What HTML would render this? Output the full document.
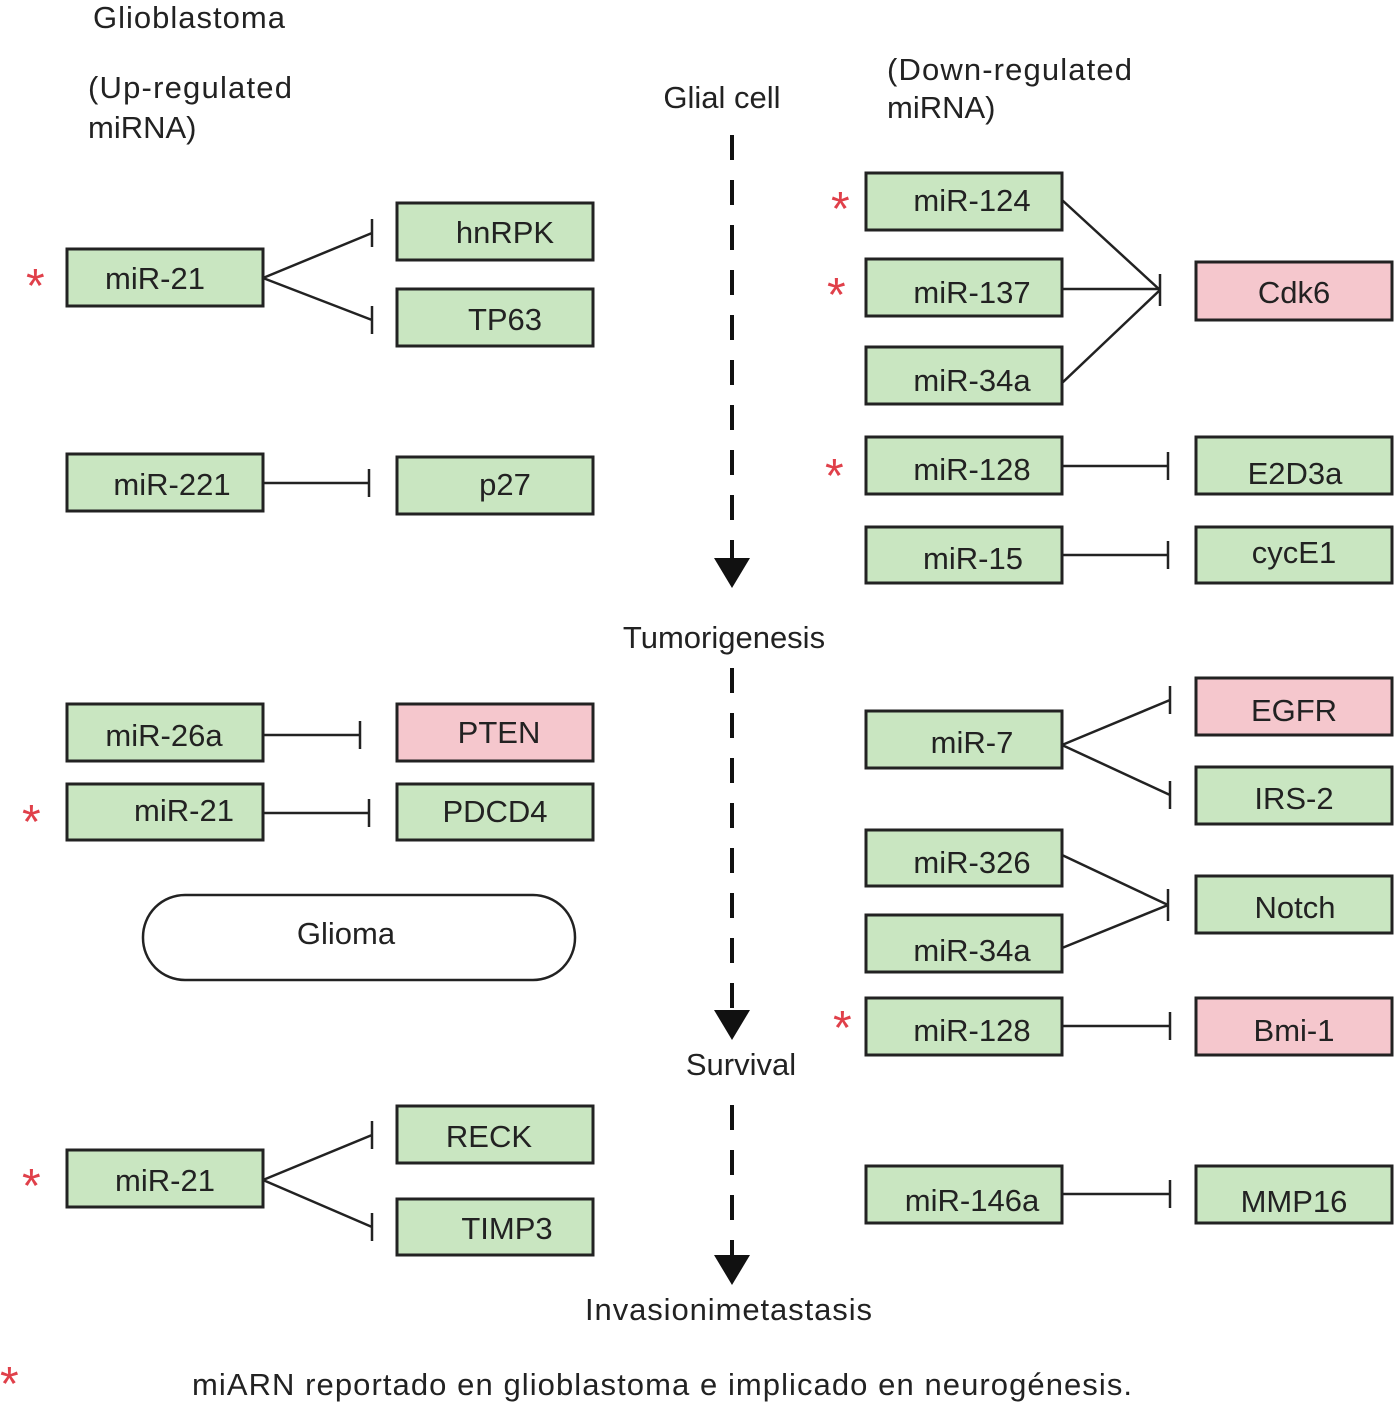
<!DOCTYPE html>
<html><head><meta charset="utf-8"><style>
html,body{margin:0;padding:0;background:#fff;width:1399px;height:1410px;overflow:hidden}
svg text{font-family:"Liberation Sans",sans-serif;font-size:31px;fill:#222}
.g{fill:#c9e6c1;stroke:#222;stroke-width:3}
.p{fill:#f5c7cd;stroke:#222;stroke-width:3}
.l{stroke:#222;stroke-width:2.5;fill:none}
.d{stroke:#111;stroke-width:4;stroke-dasharray:25 20;fill:none}
.s{fill:#e0404a;font-size:48px}
</style></head><body>
<svg width="1399" height="1410" xmlns="http://www.w3.org/2000/svg">
<text x="93" y="28" textLength="192">Glioblastoma</text>
<text x="88" y="98" textLength="204">(Up-regulated</text>
<text x="88" y="138">miRNA)</text>
<text x="722" y="108" text-anchor="middle">Glial cell</text>
<text x="887" y="80" textLength="245">(Down-regulated</text>
<text x="887" y="118">miRNA)</text>
<text x="724" y="648" text-anchor="middle">Tumorigenesis</text>
<text x="741" y="1075" text-anchor="middle">Survival</text>
<text x="585" y="1320" textLength="287">Invasionimetastasis</text>
<text x="192" y="1395" textLength="940">miARN reportado en glioblastoma e implicado en neurogénesis.</text>
<text class="s" x="0" y="1400">*</text>

<path class="d" d="M732 135 V560"/>
<path d="M714 558 L750 558 L732 588 Z" fill="#111"/>
<path class="d" d="M732 668 V1012"/>
<path d="M714 1010 L750 1010 L732 1040 Z" fill="#111"/>
<path class="d" d="M732 1105 V1258"/>
<path d="M714 1255 L750 1255 L732 1285 Z" fill="#111"/>

<rect class="g" x="67" y="249" width="196" height="57"/><text x="155" y="289" text-anchor="middle">miR-21</text>
<text class="s" x="26" y="302">*</text>
<rect class="g" x="397" y="203" width="196" height="57"/><text x="505" y="243" text-anchor="middle">hnRPK</text>
<rect class="g" x="397" y="289" width="196" height="57"/><text x="505" y="330" text-anchor="middle">TP63</text>
<path class="l" d="M263 278 L372 233 M263 278 L372 320 M372 219 V247 M372 306 V334"/>

<rect class="g" x="67" y="454" width="196" height="57"/><text x="172" y="495" text-anchor="middle">miR-221</text>
<rect class="g" x="397" y="457" width="196" height="57"/><text x="505" y="495" text-anchor="middle">p27</text>
<path class="l" d="M263 483 H369 M369 469 V497"/>

<rect class="g" x="67" y="704" width="196" height="57"/><text x="164" y="746" text-anchor="middle">miR-26a</text>
<rect class="p" x="397" y="704" width="196" height="57"/><text x="499" y="743" text-anchor="middle">PTEN</text>
<path class="l" d="M263 735 H360 M360 721 V749"/>

<rect class="g" x="67" y="784" width="196" height="56"/><text x="184" y="821" text-anchor="middle">miR-21</text>
<text class="s" x="22" y="838">*</text>
<rect class="g" x="397" y="784" width="196" height="56"/><text x="495" y="822" text-anchor="middle">PDCD4</text>
<path class="l" d="M263 813 H369 M369 799 V827"/>

<rect x="143" y="895" width="432" height="85" rx="42" fill="#fff" stroke="#222" stroke-width="2.5"/>
<text x="346" y="944" text-anchor="middle">Glioma</text>

<rect class="g" x="67" y="1150" width="196" height="57"/><text x="165" y="1191" text-anchor="middle">miR-21</text>
<text class="s" x="22" y="1202">*</text>
<rect class="g" x="397" y="1106" width="196" height="57"/><text x="489" y="1147" text-anchor="middle">RECK</text>
<rect class="g" x="397" y="1199" width="196" height="56"/><text x="507" y="1239" text-anchor="middle">TIMP3</text>
<path class="l" d="M263 1180 L372 1135 M263 1180 L372 1227 M372 1121 V1149 M372 1213 V1241"/>

<rect class="g" x="866" y="173" width="196" height="57"/><text x="972" y="211" text-anchor="middle">miR-124</text>
<text class="s" x="831" y="225">*</text>
<rect class="g" x="866" y="259" width="196" height="57"/><text x="972" y="303" text-anchor="middle">miR-137</text>
<text class="s" x="827" y="311">*</text>
<rect class="g" x="866" y="347" width="196" height="57"/><text x="972" y="391" text-anchor="middle">miR-34a</text>
<rect class="p" x="1196" y="262" width="196" height="58"/><text x="1294" y="303" text-anchor="middle">Cdk6</text>
<path class="l" d="M1062 200 L1160 290 M1062 289 H1160 M1062 383 L1160 290 M1160 274 V306"/>

<rect class="g" x="866" y="437" width="196" height="57"/><text x="972" y="480" text-anchor="middle">miR-128</text>
<text class="s" x="825" y="492">*</text>
<rect class="g" x="1196" y="437" width="196" height="57"/><text x="1295" y="484" text-anchor="middle">E2D3a</text>
<path class="l" d="M1062 466 H1168 M1168 452 V480"/>

<rect class="g" x="866" y="527" width="196" height="56"/><text x="973" y="569" text-anchor="middle">miR-15</text>
<rect class="g" x="1196" y="527" width="196" height="56"/><text x="1294" y="563" text-anchor="middle">cycE1</text>
<path class="l" d="M1062 555 H1168 M1168 541 V569"/>

<rect class="p" x="1196" y="678" width="196" height="57"/><text x="1294" y="721" text-anchor="middle">EGFR</text>
<rect class="g" x="866" y="711" width="196" height="57"/><text x="972" y="753" text-anchor="middle">miR-7</text>
<rect class="g" x="1196" y="767" width="196" height="57"/><text x="1294" y="809" text-anchor="middle">IRS-2</text>
<path class="l" d="M1062 745 L1170 700 M1062 745 L1170 795 M1170 686 V714 M1170 781 V809"/>

<rect class="g" x="866" y="830" width="196" height="56"/><text x="972" y="873" text-anchor="middle">miR-326</text>
<rect class="g" x="866" y="915" width="196" height="57"/><text x="972" y="961" text-anchor="middle">miR-34a</text>
<rect class="g" x="1196" y="876" width="196" height="57"/><text x="1295" y="918" text-anchor="middle">Notch</text>
<path class="l" d="M1062 855 L1168 905 M1062 948 L1168 905 M1168 889 V921"/>

<rect class="g" x="866" y="998" width="196" height="57"/><text x="972" y="1041" text-anchor="middle">miR-128</text>
<text class="s" x="833" y="1044">*</text>
<rect class="p" x="1196" y="998" width="196" height="57"/><text x="1294" y="1041" text-anchor="middle">Bmi-1</text>
<path class="l" d="M1062 1026 H1170 M1170 1012 V1040"/>

<rect class="g" x="866" y="1166" width="196" height="57"/><text x="972" y="1211" text-anchor="middle">miR-146a</text>
<rect class="g" x="1196" y="1166" width="196" height="57"/><text x="1294" y="1212" text-anchor="middle">MMP16</text>
<path class="l" d="M1062 1194 H1170 M1170 1180 V1208"/>
</svg>
</body></html>
